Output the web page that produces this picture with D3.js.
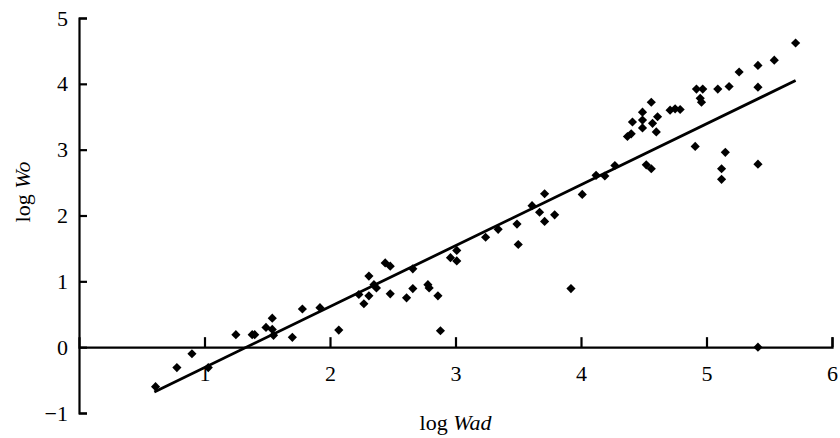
<!DOCTYPE html>
<html>
<head>
<meta charset="utf-8">
<script src="https://cdn.jsdelivr.net/npm/d3@7"></script>
<style>
  body { margin: 0; background: #fff; }
  svg text { font-family: "Liberation Serif", Tinos, "Times New Roman", Times, serif; font-size: 22px; }
</style>
</head>
<body>
<div id="chart"></div>
<script>
// log Wad vs log Wo scatter with fitted line

var logWad = [0.61, 0.78, 0.90, 1.03, 1.25, 1.38, 1.40, 1.49, 1.54, 1.54,
  1.55, 1.70, 1.78, 1.92, 2.07, 2.23, 2.27, 2.31, 2.31, 2.35,
  2.37, 2.44, 2.48, 2.48, 2.61, 2.66, 2.66, 2.78, 2.79, 2.86,
  2.88, 2.96, 3.01, 3.01, 3.24, 3.34, 3.49, 3.50, 3.61, 3.67,
  3.71, 3.71, 3.79, 3.92, 4.01, 4.12, 4.19, 4.27, 4.37, 4.40,
  4.41, 4.49, 4.49, 4.49, 4.56, 4.57, 4.61, 4.60, 4.52, 4.56,
  4.71, 4.75, 4.79, 4.91, 4.92, 4.97, 4.95, 4.96, 5.09, 5.18,
  5.15, 5.12, 5.12, 5.26, 5.41, 5.41, 5.41, 5.41, 5.54, 5.71];
var logWo = [-0.60, -0.31, -0.10, -0.31, 0.19, 0.19, 0.19, 0.30, 0.44, 0.27,
  0.18, 0.15, 0.58, 0.60, 0.26, 0.80, 0.66, 0.78, 1.08, 0.95,
  0.90, 1.28, 1.23, 0.81, 0.75, 1.19, 0.89, 0.95, 0.90, 0.78,
  0.25, 1.36, 1.31, 1.47, 1.67, 1.79, 1.87, 1.56, 2.15, 2.05,
  2.33, 1.91, 2.01, 0.89, 2.32, 2.61, 2.60, 2.76, 3.20, 3.24,
  3.42, 3.57, 3.45, 3.33, 3.72, 3.40, 3.50, 3.27, 2.77, 2.71,
  3.60, 3.62, 3.61, 3.05, 3.92, 3.92, 3.78, 3.72, 3.92, 3.96,
  2.96, 2.71, 2.55, 4.18, 4.28, 3.95, 2.78, 0.00, 4.36, 4.62];
// regression line end points
var fitLine = [[0.60, -0.68], [5.71, 4.05]];
var xTicks = [1, 2, 3, 4, 5, 6];
var yTicks = [-1, 0, 1, 2, 3, 4, 5];

var width = 840, height = 438;
var pts = logWad.map((d, i) => ({x: d, y: logWo[i]}));

var svg = d3.select("#chart").append("svg")
  .attr("width", width)
  .attr("height", height);

var xs = d3.scaleLinear().domain([0, 6]).range([79, 832]);
var ys = d3.scaleLinear().domain([-1, 5]).range([413, 18]);

// y axis, ticks pointing right
var yAxis = svg.append("g")
  .attr("transform", "translate(" + xs(0) + ",0)")
  .call(d3.axisLeft(ys).tickValues(yTicks).tickFormat(d3.format("d"))
    .tickSize(-8).tickPadding(11));

// x axis along y = 0, ticks pointing up
var xAxis = svg.append("g")
  .attr("transform", "translate(0," + ys(0) + ")")
  .call(d3.axisBottom(xs).tickValues(xTicks).tickFormat(d3.format("d"))
    .tickSize(-10).tickPadding(18));

[xAxis, yAxis].forEach(function(a){
  a.attr("font-family", null).attr("font-size", null);
  a.selectAll("path, line").attr("stroke", "#000").attr("stroke-width", 2.2);
  a.selectAll("text").attr("fill", "#000");
});

// fitted line
svg.append("line")
  .attr("x1", xs(fitLine[0][0])).attr("y1", ys(fitLine[0][1]))
  .attr("x2", xs(fitLine[1][0])).attr("y2", ys(fitLine[1][1]))
  .attr("stroke", "#000")
  .attr("stroke-width", 2.8);

// diamonds
svg.selectAll("path.pt")
  .data(pts)
  .join("path")
  .attr("class", "pt")
  .attr("d", d3.symbol(d3.symbolSquare, 42))
  .attr("transform", d => "translate(" + xs(d.x) + "," + ys(d.y) + ") rotate(45)")
  .attr("fill", "#000");

// axis titles
var xt = svg.append("text")
  .attr("x", (xs(0) + xs(6)) / 2)
  .attr("y", 430)
  .attr("text-anchor", "middle");
xt.append("tspan").text("log ");
xt.append("tspan").style("font-style", "italic").text("Wad");

var yt = svg.append("text")
  .attr("transform", "translate(30,192) rotate(-90)")
  .attr("text-anchor", "middle");
yt.append("tspan").text("log ");
yt.append("tspan").style("font-style", "italic").text("Wo");
</script>
</body>
</html>
